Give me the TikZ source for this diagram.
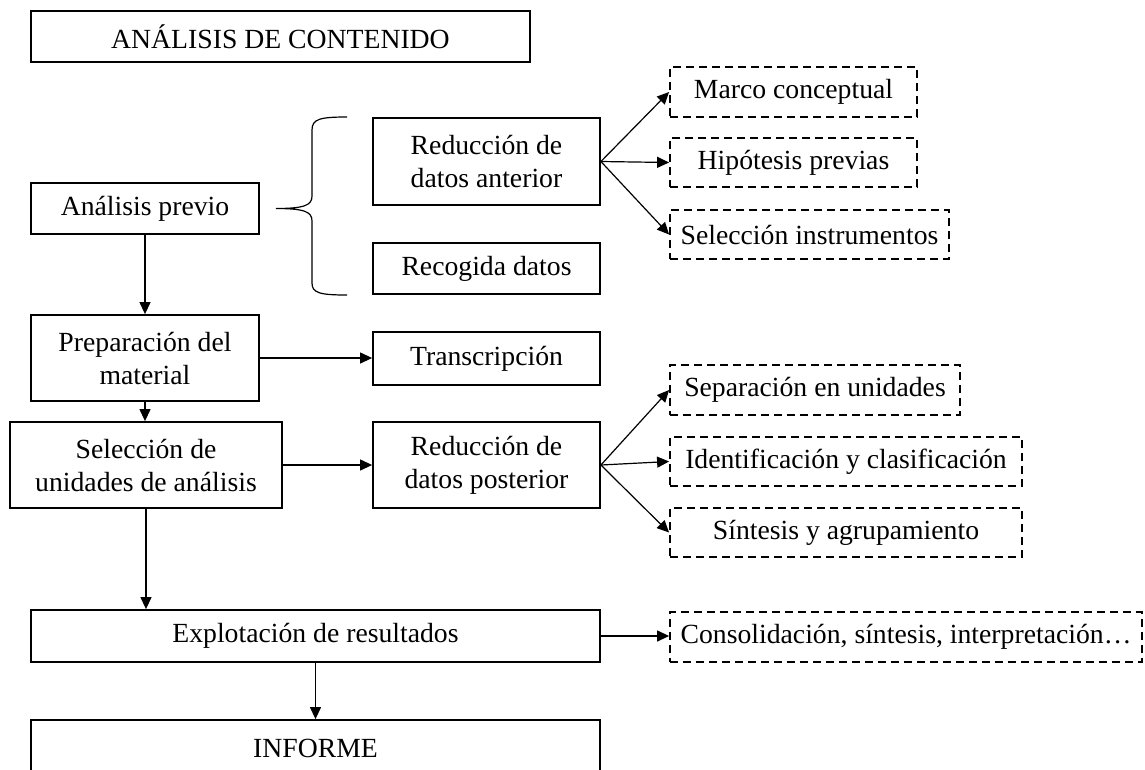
\documentclass[tikz,border=0pt]{standalone}
\usepackage{fontspec}
\setmainfont{Liberation Serif}
\usetikzlibrary{arrows.meta}

\begin{document}
\begin{tikzpicture}[x=1pt, y=-1pt,
  font=\fontsize{27.7}{33}\selectfont,
  caja/.style={draw, line width=1.8pt, align=center, inner sep=0pt},
  cajapunt/.style={caja, dash pattern=on 8pt off 5pt},
  flecha/.style={-{Triangle[length=12pt, width=11pt]}, line width=1.2pt}]

	\useasboundingbox (0,0) rectangle (1145,769);

	\node[caja, minimum width=499pt, minimum height=51pt] (titulo) at (280.5,36.5) {ANÁLISIS DE CONTENIDO};

	\node[caja, minimum width=228pt, minimum height=51pt] (previo) at (145,208.5) {Análisis previo};
	\node[caja, minimum width=227pt, minimum height=87pt] (redant) at (486.5,161.5) {Reducción de\\datos anterior};
	\node[caja, minimum width=227pt, minimum height=51pt] (recog) at (486.5,268.5) {Recogida datos};

	\node[cajapunt, minimum width=247pt, minimum height=50pt] (marco) at (793.5,92) {Marco conceptual};
	\node[cajapunt, minimum width=247pt, minimum height=49pt] (hipo) at (793.5,162.5) {Hipótesis previas};
	\node[cajapunt, minimum width=279pt, minimum height=49pt] (selinst) at (809.5,234.5) {Selección instrumentos};

	\node[caja, minimum width=228pt, minimum height=86pt] (prep) at (145,358) {Preparación del\\material};
	\node[caja, minimum width=227pt, minimum height=53pt] (transc) at (486.5,358.5) {Transcripción};

	\node[caja, minimum width=272pt, minimum height=86pt] (selun) at (146,465) {Selección de\\unidades de análisis};
	\node[caja, minimum width=227pt, minimum height=86pt] (redpost) at (486.5,465) {Reducción de\\datos posterior};

	\node[cajapunt, minimum width=290pt, minimum height=50pt] (separ) at (815,390) {Separación en unidades};
	\node[cajapunt, minimum width=352pt, minimum height=49pt] (ident) at (846,461.5) {Identificación y clasificación};
	\node[cajapunt, minimum width=352pt, minimum height=49pt] (sint) at (846,532.5) {Síntesis y agrupamiento};

	\node[caja, minimum width=569pt, minimum height=52pt] (explot) at (315.5,636) {Explotación de resultados};
	\node[cajapunt, minimum width=472pt, minimum height=50pt] (consol) at (906,637) {Consolidación, síntesis, interpretación…};

	\node[caja, minimum width=569pt, minimum height=56pt] (informe) at (315.5,748) {INFORME};

	\draw[line width=1.2pt] (347,117) .. controls (320,117) and (312,119) .. (312,130) -- (312,196)
		.. controls (312,205) and (305,208.5) .. (276,208.5)
		.. controls (305,208.5) and (312,212) .. (312,221) -- (312,283)
		.. controls (312,293) and (320,295) .. (347,295);

	\draw[flecha] (previo) -- (prep);
	\draw[flecha] (prep.south) -- (prep.south |- selun.north);
	\draw[flecha] (selun.south) -- (selun.south |- explot.north);
	\draw[flecha] (explot) -- (informe);

	\draw[flecha] (prep.east) -- (prep.east -| transc.west);
	\draw[flecha] (selun.east) -- (redpost.west);
	\draw[flecha] (explot.east) -- (explot.east -| consol.west);

	\foreach \n in {marco, hipo, selinst}
		\draw[flecha] (redant.east) -- (\n.west);
	\foreach \n in {separ, ident, sint}
		\draw[flecha] (redpost.east) -- (\n.west);

\end{tikzpicture}
\end{document}
